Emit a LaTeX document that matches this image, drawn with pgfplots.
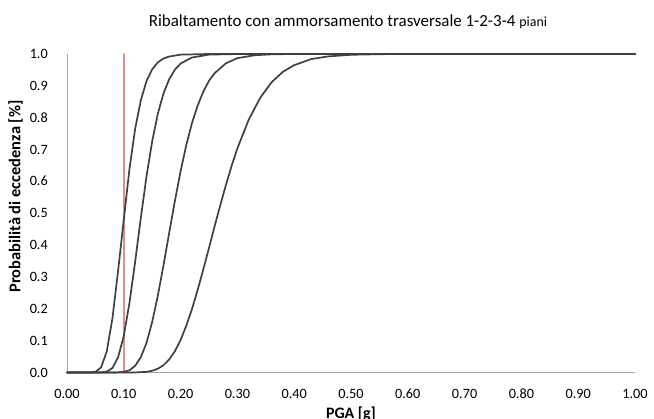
\documentclass[border=0pt]{standalone}
\usepackage{fontspec}
\setmainfont{Carlito}
\usepackage{pgfplots}
\pgfplotsset{compat=1.18}
\definecolor{curve}{HTML}{404040}
\definecolor{axisgray}{HTML}{A6A6A6}
\definecolor{pgaline}{HTML}{E08F8C}

\begin{document}
\begin{tikzpicture}
\begin{axis}[
  name=ax,
  scale only axis,
  width=568bp, height=318.5bp,
  xmin=0, xmax=1, ymin=0, ymax=1,
  axis x line*=bottom, axis y line*=left,
  axis line style={axisgray, line width=0.75bp, -},
  major tick length=0,
  xtick={0,0.1,0.2,0.3,0.4,0.5,0.6,0.7,0.8,0.9,1},
  ytick={0,0.1,0.2,0.3,0.4,0.5,0.6,0.7,0.8,0.9,1},
  tick label style={font=\fontsize{14.3}{16}\selectfont, inner sep=0pt},
  xticklabel style={anchor=base, yshift=-26bp,
    /pgf/number format/.cd, fixed, fixed zerofill, precision=2, assume math mode=true},
  yticklabel style={anchor=base east, xshift=-19bp, yshift=-4.6bp,
    /pgf/number format/.cd, fixed, fixed zerofill, precision=1, assume math mode=true},
  xlabel={PGA [g]},
  xlabel style={font=\bfseries\fontsize{16}{18}\selectfont, at={(axis description cs:0.5,0)},
    anchor=north, inner sep=0pt, yshift=-34bp},
  clip=false,
  every axis plot/.append style={line join=round, line cap=round},
]
% PGA of reference
\addplot[color=pgaline, line width=1.5bp] coordinates {(0.10,0) (0.10,1)};

% 1 piano
\addplot[curve, line width=1.7bp] coordinates {
(0,0) (0.03,0) (0.04,0.0001) (0.05,0.002) (0.06,0.016) (0.07,0.066) (0.08,0.17)
(0.09,0.32) (0.10,0.48) (0.11,0.64) (0.12,0.765) (0.13,0.855) (0.14,0.915)
(0.15,0.952) (0.16,0.974) (0.17,0.986) (0.18,0.992) (0.20,0.998) (0.25,1) (1,1)};

% 2 piani
\addplot[curve, line width=1.7bp] coordinates {
(0,0) (0.05,0) (0.06,0.0003) (0.07,0.003) (0.08,0.014) (0.09,0.048) (0.10,0.115)
(0.11,0.219) (0.12,0.348) (0.13,0.486) (0.14,0.616) (0.15,0.726) (0.16,0.813)
(0.17,0.877) (0.18,0.921) (0.19,0.951) (0.20,0.970) (0.22,0.989) (0.25,0.998)
(0.30,1) (1,1)};

% 3 piani
\addplot[curve, line width=1.7bp] coordinates {
(0,0) (0.08,0) (0.09,0.0004) (0.10,0.002) (0.11,0.007) (0.12,0.021) (0.13,0.048)
(0.14,0.093) (0.15,0.159) (0.16,0.242) (0.17,0.338) (0.18,0.439) (0.19,0.539)
(0.20,0.632) (0.21,0.714) (0.22,0.783) (0.23,0.838) (0.24,0.882) (0.25,0.916)
(0.26,0.940) (0.28,0.971) (0.30,0.987) (0.33,0.996) (0.36,0.999) (0.40,1) (1,1)};

% 4 piani
\addplot[curve, line width=1.7bp] coordinates {
(0,0) (0.11,0) (0.12,0.0002) (0.14,0.002) (0.15,0.0055) (0.16,0.012) (0.17,0.023)
(0.18,0.041) (0.19,0.067) (0.20,0.102) (0.21,0.147) (0.22,0.199) (0.23,0.259)
(0.24,0.324) (0.25,0.391) (0.26,0.460) (0.27,0.526) (0.28,0.590) (0.29,0.650)
(0.30,0.704) (0.32,0.794) (0.34,0.862) (0.36,0.911) (0.38,0.944) (0.40,0.965)
(0.43,0.984) (0.46,0.9925) (0.50,0.9975) (0.55,0.9994) (0.60,1) (1,1)};
\end{axis}

% chart title
\node[anchor=base, font=\fontsize{17}{20}\selectfont]
  at ([xshift=281bp, yshift=345.5bp]ax.south west)
  {Ribaltamento con ammorsamento trasversale 1-2-3-4 {\fontsize{14}{16}\selectfont piani}};

% vertical axis title
\node[rotate=90, anchor=south, inner sep=0pt, font=\bfseries\fontsize{16.5}{18}\selectfont]
  at ([xshift=-44bp, yshift=176bp]ax.south west)
  {Probabilità di eccedenza [\%]};

\pgfresetboundingbox
\path[use as bounding box]
  ([xshift=-67bp, yshift=-46.5bp]ax.south west) rectangle
  ([xshift=587bp, yshift=372.5bp]ax.south west);
\end{tikzpicture}
\end{document}
